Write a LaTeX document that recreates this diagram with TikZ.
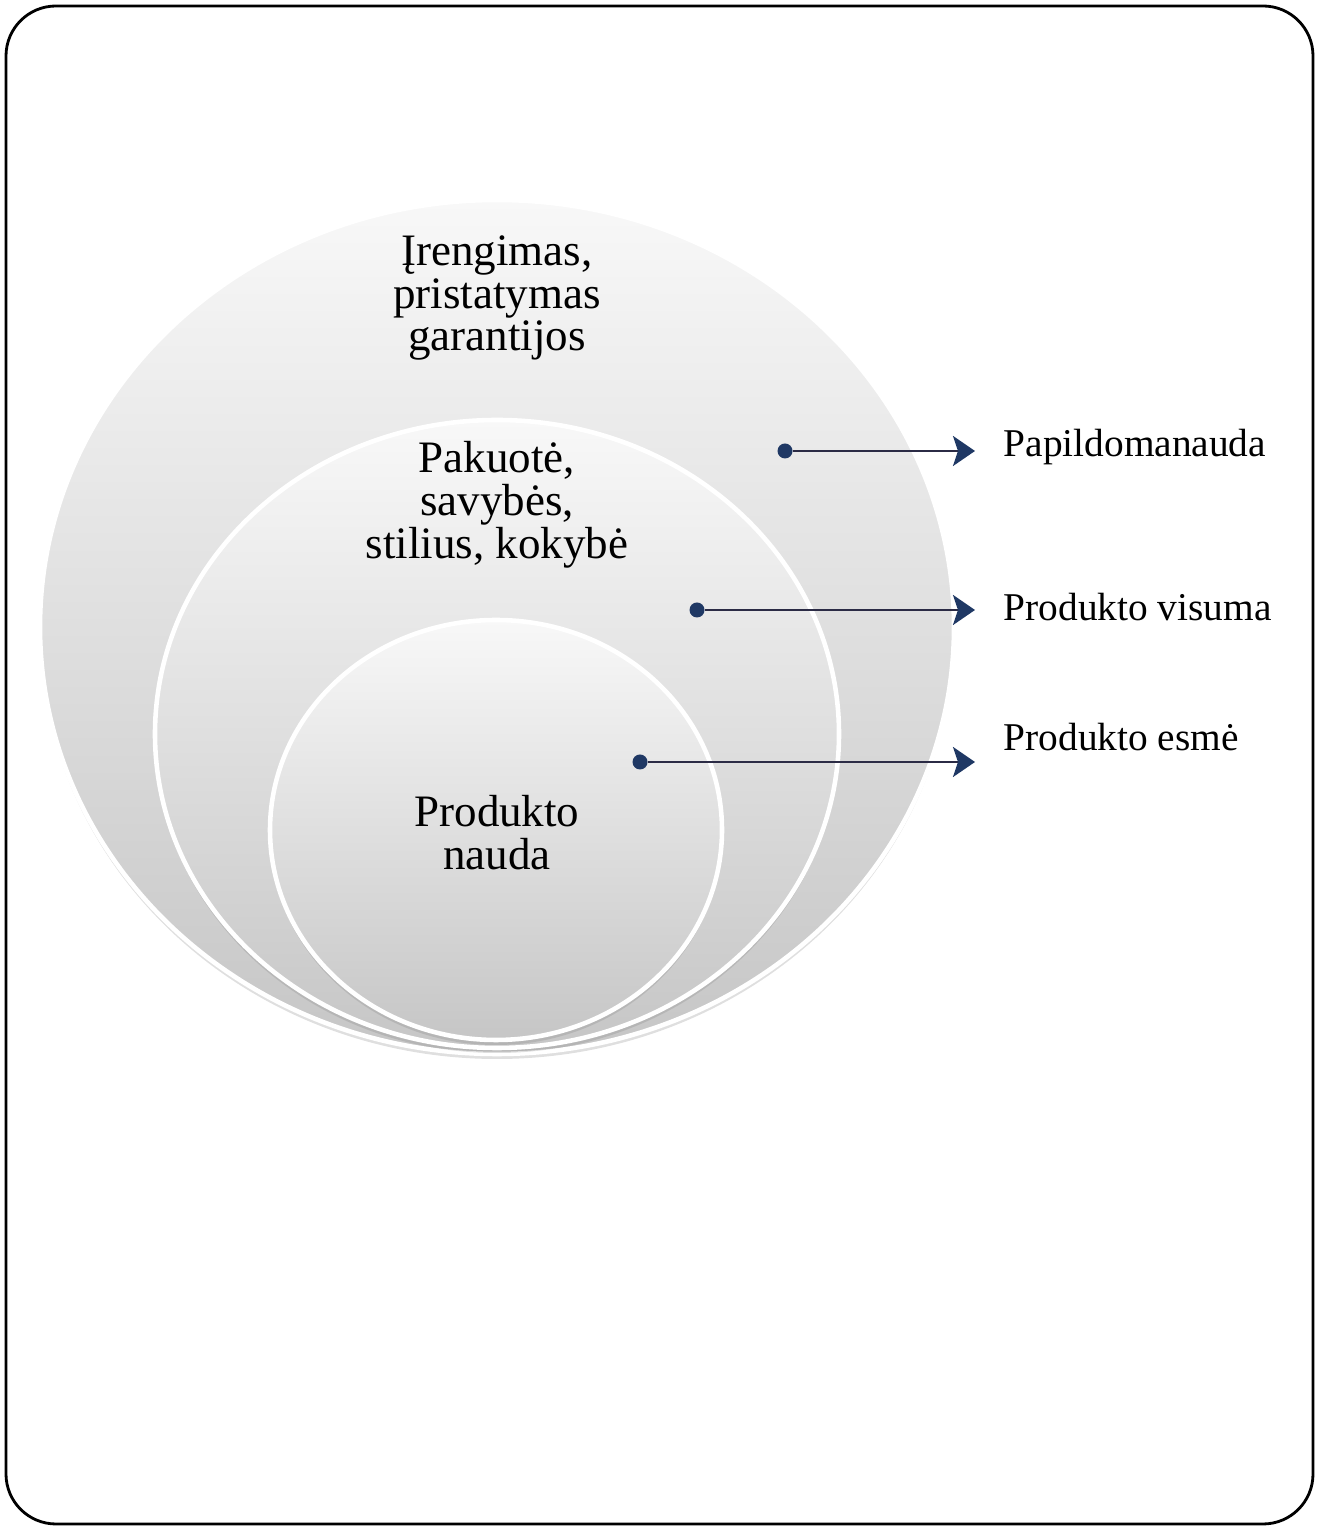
\documentclass[tikz,border=0pt]{standalone}
\usepackage{fontspec}
\setmainfont{Liberation Serif}
\usepackage{tikz}
\usetikzlibrary{shapes.geometric,shadows,arrows.meta}
\definecolor{RingTop}{HTML}{F8F8F8}
\definecolor{RingBottom}{HTML}{C6C6C6}
\definecolor{DotNavy}{HTML}{1F3864}
\definecolor{LineDark}{HTML}{2B2B45}

\tikzset{
  ring/.style={ellipse,inner sep=0pt,draw=white,line width=1.3pt,
    top color=RingTop,bottom color=RingBottom,
    drop shadow={opacity=0.25,shadow xshift=0pt,shadow yshift=-0.05cm}},
  ringtext/.style={align=center,font=\fontsize{12.8}{12.2}\selectfont},
  dotnode/.style={circle,fill=DotNavy,inner sep=0pt,minimum size=0.15cm},
  pointer/.style={LineDark,line width=0.8pt,
    -{Stealth[length=0.22cm,width=0.3cm,inset=0.05cm,DotNavy]}},
  sidetext/.style={anchor=west,inner sep=0pt,font=\fontsize{11.2}{13}\selectfont}
}

\begin{document}
\begin{tikzpicture}[x=1cm,y=1cm]
\path[use as bounding box] (0,0) rectangle (13.17,15.27);
\draw[black,line width=0.8pt,rounded corners=0.5cm] (0.06,0.03) rectangle (13.13,15.21);
\node[ring,minimum width=9.14cm,minimum height=8.54cm] (outer) at (4.97,9.00) {};
\node[ring,minimum width=6.84cm,minimum height=6.28cm] (middle) at (4.97,7.93) {};
\node[ring,minimum width=4.52cm,minimum height=4.20cm] (inner) at (4.96,6.97) {};
\node[ringtext] (outertext) at (4.97,12.29) {Įrengimas,\\pristatymas\\garantijos};
\node[ringtext] (middletext) at (4.97,10.22) {Pakuotė,\\savybės,\\stilius, kokybė};
\node[ringtext] (innertext) at (4.97,6.94) {Produkto\\nauda};
\node[dotnode] (dot1) at (7.85,10.76) {};
\node[dotnode] (dot2) at (6.97,9.17) {};
\node[dotnode] (dot3) at (6.40,7.65) {};
\coordinate (tip1) at (9.75,10.76);
\coordinate (tip2) at (9.75,9.17);
\coordinate (tip3) at (9.75,7.65);
\draw[pointer] (dot1) -- (tip1);
\draw[pointer] (dot2) -- (tip2);
\draw[pointer] (dot3) -- (tip3);
\node[sidetext] (extra) at (10.03,10.80) {Papildomanauda};
\node[sidetext] (whole) at (10.03,9.20) {Produkto visuma};
\node[sidetext] (core) at (10.03,7.90) {Produkto esmė};
\end{tikzpicture}
\end{document}
